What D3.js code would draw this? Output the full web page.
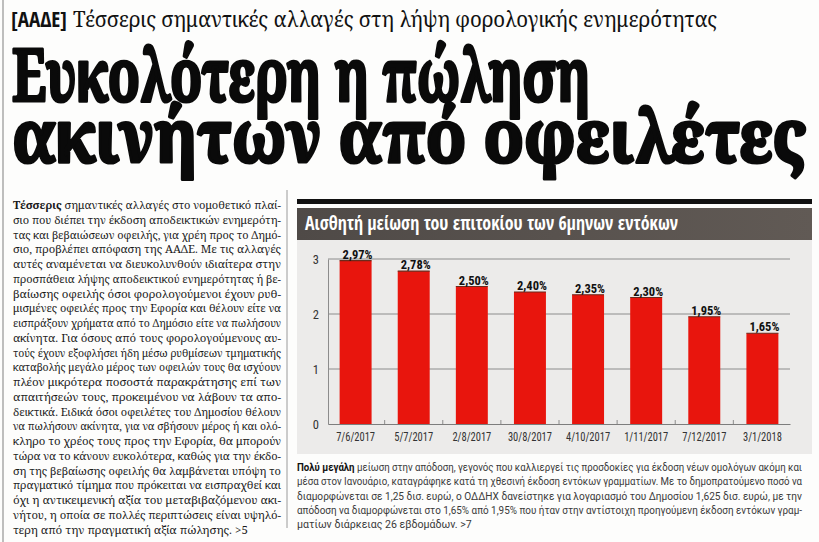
<!DOCTYPE html>
<html>
<head>
<meta charset="utf-8">
<script src="https://cdn.jsdelivr.net/npm/d3@7"></script>
<style>
  html, body { margin: 0; padding: 0; background: #fdfdfc; }
  svg { display: block; }
</style>
</head>
<body>
<div id="page"></div>
<script>
// chart data
const DATES = ['7/6/2017', '5/7/2017', '2/8/2017', '30/8/2017', '4/10/2017', '1/11/2017', '7/12/2017', '3/1/2018'];
const RATES = [2.97, 2.78, 2.50, 2.40, 2.35, 2.30, 1.95, 1.65];
const Y_TICKS = [0, 1, 2, 3];
const CHART_TITLE = 'Αισθητή μείωση του επιτοκίου των 6μηνων εντόκων';

// page texts
const KICKER = '[ΑΑΔΕ]';
const SUBHEAD = 'Τέσσερις σημαντικές αλλαγές στη λήψη φορολογικής ενημερότητας';
const HEADLINE = ['Ευκολότερη η πώληση', 'ακινήτων από οφειλέτες'];
const BODY_LEAD = 'Τέσσερις';
const BODY = [
  ' σημαντικές αλλαγές στο νομοθετικό πλαί-',
  'σιο που διέπει την έκδοση αποδεικτικών ενημερότη-',
  'τας και βεβαιώσεων οφειλής, για χρέη προς το Δημό-',
  'σιο, προβλέπει απόφαση της ΑΑΔΕ. Με τις αλλαγές',
  'αυτές αναμένεται να διευκολυνθούν ιδιαίτερα στην',
  'προσπάθεια λήψης αποδεικτικού ενημερότητας ή βε-',
  'βαίωσης οφειλής όσοι φορολογούμενοι έχουν ρυθ-',
  'μισμένες οφειλές προς την Εφορία και θέλουν είτε να',
  'εισπράξουν χρήματα από το Δημόσιο είτε να πωλήσουν',
  'ακίνητα. Για όσους από τους φορολογούμενους αυ-',
  'τούς έχουν εξοφλήσει ήδη μέσω ρυθμίσεων τμηματικής',
  'καταβολής μεγάλο μέρος των οφειλών τους θα ισχύουν',
  'πλέον μικρότερα ποσοστά παρακράτησης επί των',
  'απαιτήσεών τους, προκειμένου να λάβουν τα απο-',
  'δεικτικά. Ειδικά όσοι οφειλέτες του Δημοσίου θέλουν',
  'να πωλήσουν ακίνητα, για να σβήσουν μέρος ή και ολό-',
  'κληρο το χρέος τους προς την Εφορία, θα μπορούν',
  'τώρα να το κάνουν ευκολότερα, καθώς για την έκδο-',
  'ση της βεβαίωσης οφειλής θα λαμβάνεται υπόψη το',
  'πραγματικό τίμημα που πρόκειται να εισπραχθεί και',
  'όχι η αντικειμενική αξία του μεταβιβαζόμενου ακι-',
  'νήτου, η οποία σε πολλές περιπτώσεις είναι υψηλό-',
  'τερη από την πραγματική αξία πώλησης. >5'
];
const CAPTION_LEAD = 'Πολύ μεγάλη';
const CAPTION = [
  ' μείωση στην απόδοση, γεγονός που καλλιεργεί τις προσδοκίες για έκδοση νέων ομολόγων ακόμη και',
  'μέσα στον Ιανουάριο, καταγράφηκε κατά τη χθεσινή έκδοση εντόκων γραμματίων. Με το δημοπρατούμενο ποσό να',
  'διαμορφώνεται σε 1,25 δισ. ευρώ, ο ΟΔΔΗΧ δανείστηκε για λογαριασμό του Δημοσίου 1,625 δισ. ευρώ, με την',
  'απόδοση να διαμορφώνεται στο 1,65% από 1,95% που ήταν στην αντίστοιχη προηγούμενη έκδοση εντόκων γραμ-',
  'ματίων διάρκειας 26 εβδομάδων. >7'
];

const W = 819, H = 542;
const SERIF = "'Noto Serif', 'DejaVu Serif', serif";
const COND = "'Roboto Condensed', 'DejaVu Sans Condensed', sans-serif";
const COND_HEAVY = "'Open Sans Condensed', 'Roboto Condensed', sans-serif";
const SANS = "Roboto, 'Noto Sans', sans-serif";
const RED = '#e8150d';
const GRID = '#8c8c8c';

const fmt = d3.formatLocale({ decimal: ',', thousands: '.', grouping: [3], currency: ['', '€'] }).format('.2f');

const svg = d3.select('#page').append('svg')
  .attr('width', W)
  .attr('height', H);

svg.append('rect').attr('width', W).attr('height', H).attr('fill', '#fdfdfc');

// page edge on the left
svg.append('line')
  .attr('x1', 3).attr('x2', 3).attr('y1', 0).attr('y2', H)
  .attr('stroke', '#a9a9a9').attr('stroke-width', 1.5);

// spreads a line to the column width, squeezes it when it is too long
function justify(sel, width, lastLine) {
  sel.each(function(d, i) {
    const el = d3.select(this);
    const w = this.getComputedTextLength();
    const spaces = (el.text().match(/ /g) || []).length;
    if (w > width && i !== lastLine) {
      el.attr('textLength', width).attr('lengthAdjust', 'spacingAndGlyphs');
    } else if (w > width) {
      el.attr('textLength', w * 0.93).attr('lengthAdjust', 'spacingAndGlyphs');
    } else if (i !== lastLine && spaces) {
      el.style('word-spacing', ((width - w) / spaces) + 'px');
    }
  });
}

// narrow a text to a share of its own width
function squeeze(sel, k) {
  sel.each(function() {
    const w = this.getComputedTextLength();
    d3.select(this).attr('textLength', w * k).attr('lengthAdjust', 'spacingAndGlyphs');
  });
}

// kicker + subhead
const sub = svg.append('g');
sub.append('text')
  .attr('x', 11).attr('y', 27)
  .attr('font-family', COND_HEAVY).attr('font-weight', 'bold').attr('font-size', 21)
  .attr('fill', '#111')
  .attr('textLength', 56).attr('lengthAdjust', 'spacingAndGlyphs')
  .text(KICKER);
sub.append('text')
  .attr('x', 73).attr('y', 27)
  .attr('font-family', SERIF).attr('font-size', 21)
  .attr('fill', '#111')
  .attr('textLength', 644).attr('lengthAdjust', 'spacingAndGlyphs')
  .text(SUBHEAD);

// headline (squeezed hard, so the stems get a stroke to stay heavy)
const HEAD_WIDTHS = [580, 797];
svg.append('g').selectAll('text')
  .data(HEADLINE)
  .join('text')
  .attr('x', 12)
  .attr('y', (d, i) => 101 + i * 61)
  .attr('font-family', SERIF).attr('font-weight', 'bold').attr('font-size', 73)
  .attr('fill', '#0a0a0a')
  .attr('stroke', '#0a0a0a').attr('stroke-width', 3.2).attr('stroke-linejoin', 'round')
  .attr('textLength', (d, i) => HEAD_WIDTHS[i] - 2).attr('lengthAdjust', 'spacingAndGlyphs')
  .text(d => d);

// body column
const body = svg.append('g')
  .attr('font-family', SERIF).attr('font-size', 11.6).attr('fill', '#1a1a1a');
const bodyLines = body.selectAll('text')
  .data(BODY)
  .join('text')
  .attr('x', 13)
  .attr('y', (d, i) => 209 + i * 14.75);
bodyLines.each(function(d, i) {
  const el = d3.select(this);
  if (i === 0) el.append('tspan').attr('font-weight', 'bold').text(BODY_LEAD);
  el.append('tspan').text(d);
});
justify(bodyLines, 268, BODY.length - 1);

svg.append('line')
  .attr('x1', 287).attr('x2', 287).attr('y1', 190).attr('y2', 528)
  .attr('stroke', '#9a9a9a').attr('stroke-width', 1);

// chart frame
const PX0 = 297, PX1 = 812;
svg.append('rect')
  .attr('x', PX0).attr('y', 199).attr('width', PX1 - PX0).attr('height', 5)
  .attr('fill', '#111');

const grad = svg.append('defs').append('linearGradient')
  .attr('id', 'titleBar').attr('x1', 0).attr('x2', 1).attr('y1', 0).attr('y2', 0);
grad.append('stop').attr('offset', 0).attr('stop-color', '#4f4a47');
grad.append('stop').attr('offset', 1).attr('stop-color', '#615a55');

svg.append('rect')
  .attr('x', PX0).attr('y', 208).attr('width', PX1 - PX0).attr('height', 32)
  .attr('fill', 'url(#titleBar)');
svg.append('text')
  .attr('x', 305).attr('y', 230)
  .attr('font-family', COND_HEAVY).attr('font-weight', 'bold').attr('font-size', 19)
  .attr('fill', '#fff')
  .attr('textLength', 373).attr('lengthAdjust', 'spacingAndGlyphs')
  .text(CHART_TITLE);

svg.append('rect')
  .attr('x', PX0).attr('y', 240).attr('width', PX1 - PX0).attr('height', 214)
  .attr('fill', '#ecebea');

// scales
const x = d3.scaleBand()
  .domain(DATES)
  .range([328, 790])
  .paddingInner(0.45)
  .paddingOuter(0.2);

const y = d3.scaleLinear()
  .domain([0, 3])
  .range([424, 259]);

const plot = svg.append('g');

// gridlines
plot.append('g')
  .selectAll('line')
  .data(Y_TICKS.filter(t => t > 0))
  .join('line')
  .attr('x1', 328).attr('x2', 790)
  .attr('y1', d => y(d)).attr('y2', d => y(d))
  .attr('stroke', GRID).attr('stroke-width', 1);

// y axis
const yAxis = plot.append('g')
  .attr('transform', 'translate(328,0)')
  .call(d3.axisLeft(y).tickValues(Y_TICKS).tickFormat(d3.format('d')).tickSize(0).tickPadding(9));
yAxis.select('.domain').attr('stroke', GRID);
yAxis.selectAll('text')
  .attr('font-family', COND).attr('font-size', 12.5).attr('fill', '#333');

// x axis
const xAxis = plot.append('g')
  .attr('transform', 'translate(0,' + y(0) + ')')
  .call(d3.axisBottom(x).tickSize(0).tickPadding(8));
xAxis.select('.domain').attr('stroke', '#7d7d7d');
xAxis.selectAll('text')
  .attr('font-family', COND).attr('font-size', 12.5).attr('fill', '#333')
  .call(squeeze, 0.84);

// small marks between the bars
plot.append('g')
  .selectAll('line')
  .data(DATES.slice(1))
  .join('line')
  .attr('x1', d => x(d) - x.step() * x.paddingInner() / 2)
  .attr('x2', d => x(d) - x.step() * x.paddingInner() / 2)
  .attr('y1', y(0)).attr('y2', y(0) - 4)
  .attr('stroke', GRID);

// bars
const bars = plot.append('g')
  .selectAll('g')
  .data(DATES.map((d, i) => ({ date: d, rate: RATES[i] })))
  .join('g');

bars.append('rect')
  .attr('x', d => x(d.date))
  .attr('y', d => y(d.rate))
  .attr('width', x.bandwidth())
  .attr('height', d => y(0) - y(d.rate))
  .attr('fill', RED);

bars.append('line')
  .attr('x1', d => x(d.date)).attr('x2', d => x(d.date) + x.bandwidth())
  .attr('y1', d => y(d.rate)).attr('y2', d => y(d.rate))
  .attr('stroke', '#6b2a1c').attr('stroke-width', 1.2);

bars.append('text')
  .attr('x', d => x(d.date) + x.bandwidth() / 2 + 2)
  .attr('y', d => y(d.rate) - 2)
  .attr('text-anchor', 'middle')
  .attr('font-family', COND).attr('font-weight', 'bold').attr('font-size', 12.5)
  .attr('fill', '#111')
  .text(d => fmt(d.rate) + '%');

// caption under the chart
const cap = svg.append('g')
  .attr('font-family', SANS).attr('font-size', 10.6).attr('fill', '#3a3a3a');
const capLines = cap.selectAll('text')
  .data(CAPTION)
  .join('text')
  .attr('x', 297)
  .attr('y', (d, i) => 471 + i * 14.3);
capLines.each(function(d, i) {
  const el = d3.select(this);
  if (i === 0) el.append('tspan').attr('font-weight', 'bold').attr('fill', '#111').text(CAPTION_LEAD);
  el.append('tspan').text(d);
});
justify(capLines, 505, CAPTION.length - 1);
</script>
</body>
</html>
